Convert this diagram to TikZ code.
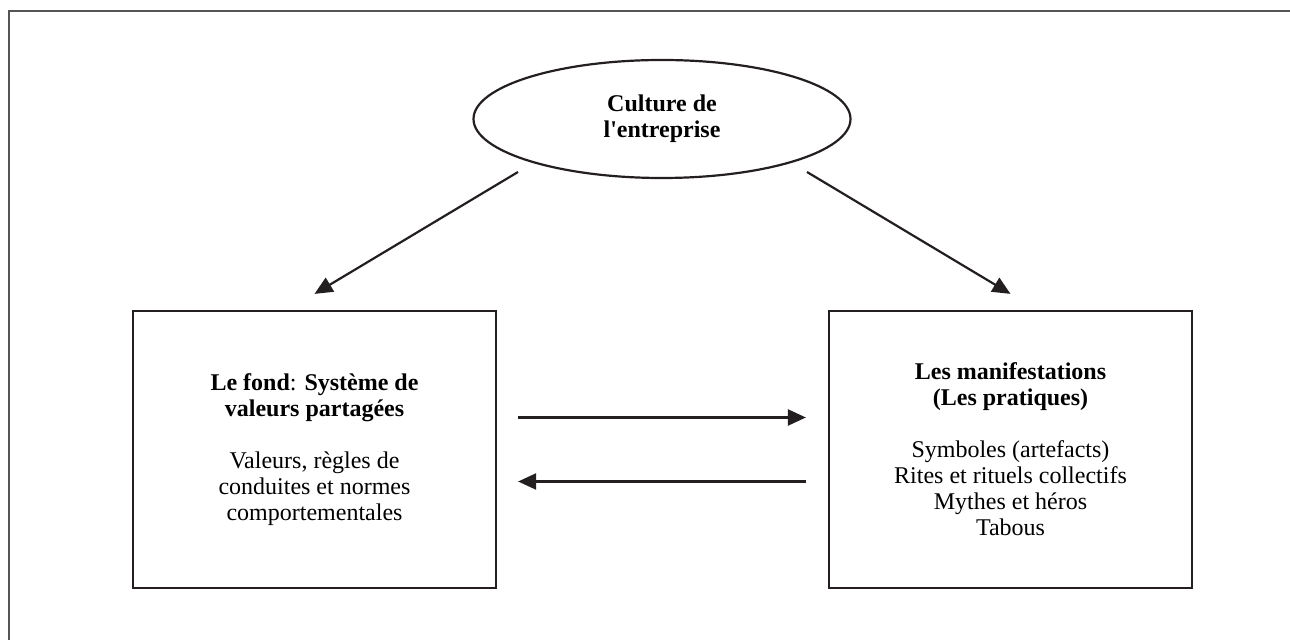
\documentclass[tikz,border=0pt]{standalone}
\usepackage{fontspec}
\setmainfont{Liberation Serif}[Ligatures=TeXOff]
\usetikzlibrary{shapes.geometric, arrows.meta}
\definecolor{framegray}{HTML}{555555}
\definecolor{inkdark}{HTML}{231F20}

\begin{document}
\begin{tikzpicture}[x=0.5pt, y=-0.5pt,
    boxstyle/.style={draw=inkdark, line width=1.1pt, minimum width=181.5pt, minimum height=138.5pt, align=center, inner sep=0pt, font=\fontsize{12}{13}\selectfont},
    ellstyle/.style={ellipse, draw=inkdark, line width=1.1pt, minimum width=188.5pt, minimum height=59pt, align=center, font=\fontsize{12}{13}\selectfont\bfseries},
    arr/.style={draw=inkdark, line width=1.1pt, -{Triangle[length=9pt, width=8pt]}}]

        % the page, margins included
        \useasboundingbox (0,0) rectangle (1290,640);

        % outer frame, cut at the right and the bottom
        \draw[framegray, line width=0.9pt] (9,640) -- (9,11) -- (1290,11);

        % the three nodes
        \node[ellstyle] (culture) at (662,119) {Culture de\\l'entreprise};
        \node[boxstyle] (fond) at (314.5,449.5) {\textbf{Le fond}: \textbf{Système de}\\\textbf{valeurs partagées}\\[13pt]Valeurs, règles de\\conduites et normes\\comportementales};
        \node[boxstyle] (manif) at (1010.5,449.5) {\textbf{Les manifestations}\\\textbf{(Les pratiques)}\\[13pt]Symboles (artefacts)\\Rites et rituels collectifs\\Mythes et héros\\Tabous};

        % free starts of the two arrows below the ellipse
        \coordinate (cl) at (518,172);
        \coordinate (cr) at (807,172);

        \draw[arr] (cl) -- ([yshift=8pt]fond.north);
        \draw[arr] (cr) -- ([yshift=8pt]manif.north);

        % exchange between the two boxes
        \draw[arr] ([shift={(10.5pt,16pt)}]fond.east) -- ([shift={(-11pt,16pt)}]manif.west);
        \draw[arr] ([shift={(-11pt,-16pt)}]manif.west) -- ([shift={(10.5pt,-16pt)}]fond.east);

\end{tikzpicture}
\end{document}
